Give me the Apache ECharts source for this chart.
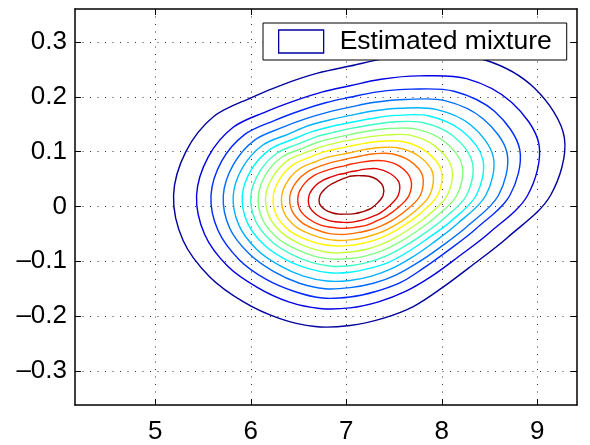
<!DOCTYPE html>
<html><head><meta charset="utf-8">
<script src="https://cdn.jsdelivr.net/npm/echarts@6/dist/echarts.min.js"></script>
<style>html,body{margin:0;padding:0;background:#fff}#chart{width:590px;height:445px}</style>
</head><body><div id="chart"></div>
<script>
// ---- chart values ----
const xTickValues = [5, 6, 7, 8, 9];
const yTickValues = [-0.3, -0.2, -0.1, 0, 0.1, 0.2, 0.3];
const xRange = [4.159, 9.416];
const yRange = [-0.362, 0.360];
const legendLabel = 'Estimated mixture';

// contour lines, outermost (lowest level) to innermost (highest level), [x, y] points
const c1 = [[9.138,0.020],[9.284,0.125],[8.975,0.215],[8.453,0.267],[7.883,0.275],[7.423,0.270],[7.039,0.256],[6.700,0.243],[6.363,0.224],[6.013,0.199],[5.611,0.164],[5.320,0.100],[5.191,0.020],[5.291,-0.062],[5.568,-0.128],[5.924,-0.174],[6.297,-0.204],[6.672,-0.219],[7.039,-0.217],[7.383,-0.204],[7.707,-0.182],[8.006,-0.148],[8.313,-0.108],[8.686,-0.057]];
const c2 = [[8.898,0.020],[9.018,0.113],[8.730,0.190],[8.260,0.233],[7.759,0.238],[7.364,0.232],[7.039,0.220],[6.752,0.209],[6.464,0.193],[6.163,0.173],[5.812,0.144],[5.553,0.090],[5.432,0.020],[5.517,-0.051],[5.759,-0.109],[6.072,-0.148],[6.397,-0.174],[6.721,-0.186],[7.039,-0.185],[7.337,-0.174],[7.620,-0.155],[7.887,-0.128],[8.164,-0.093],[8.499,-0.048]];
const c3 = [[8.712,0.020],[8.817,0.103],[8.555,0.173],[8.129,0.210],[7.682,0.214],[7.329,0.209],[7.039,0.199],[6.783,0.189],[6.524,0.175],[6.252,0.157],[5.934,0.131],[5.696,0.083],[5.583,0.020],[5.657,-0.044],[5.878,-0.097],[6.162,-0.133],[6.458,-0.155],[6.752,-0.167],[7.039,-0.165],[7.309,-0.155],[7.565,-0.139],[7.805,-0.113],[8.054,-0.082],[8.356,-0.041]];
const c4 = [[8.593,0.020],[8.684,0.097],[8.432,0.160],[8.032,0.193],[7.619,0.195],[7.299,0.190],[7.039,0.181],[6.810,0.172],[6.577,0.160],[6.331,0.144],[6.040,0.121],[5.820,0.077],[5.712,0.020],[5.777,-0.039],[5.980,-0.086],[6.241,-0.119],[6.510,-0.140],[6.778,-0.150],[7.039,-0.148],[7.284,-0.140],[7.519,-0.125],[7.744,-0.103],[7.979,-0.075],[8.262,-0.037]];
const c5 = [[8.460,0.020],[8.540,0.090],[8.307,0.148],[7.940,0.177],[7.565,0.179],[7.275,0.174],[7.039,0.166],[6.831,0.158],[6.615,0.148],[6.394,0.132],[6.126,0.112],[5.918,0.072],[5.816,0.020],[5.875,-0.034],[6.060,-0.078],[6.303,-0.108],[6.552,-0.127],[6.799,-0.136],[7.039,-0.135],[7.265,-0.127],[7.481,-0.113],[7.687,-0.093],[7.903,-0.067],[8.160,-0.032]];
const c6 = [[8.360,0.020],[8.431,0.085],[8.211,0.138],[7.868,0.165],[7.522,0.166],[7.254,0.160],[7.039,0.153],[6.849,0.146],[6.651,0.137],[6.448,0.123],[6.202,0.104],[6.009,0.068],[5.911,0.020],[5.965,-0.030],[6.139,-0.070],[6.366,-0.097],[6.597,-0.113],[6.822,-0.121],[7.039,-0.120],[7.243,-0.113],[7.442,-0.102],[7.634,-0.084],[7.838,-0.060],[8.082,-0.029]];
const c7 = [[8.259,0.020],[8.321,0.080],[8.116,0.129],[7.799,0.153],[7.481,0.154],[7.236,0.148],[7.039,0.142],[6.865,0.135],[6.685,0.127],[6.498,0.114],[6.273,0.097],[6.095,0.064],[6.001,0.020],[6.049,-0.026],[6.212,-0.063],[6.422,-0.087],[6.635,-0.102],[6.841,-0.109],[7.039,-0.108],[7.226,-0.102],[7.408,-0.091],[7.586,-0.075],[7.777,-0.054],[8.002,-0.025]];
const c8 = [[8.157,0.020],[8.213,0.075],[8.024,0.119],[7.733,0.141],[7.442,0.142],[7.219,0.137],[7.039,0.131],[6.880,0.125],[6.714,0.118],[6.543,0.106],[6.334,0.091],[6.167,0.061],[6.079,0.020],[6.120,-0.023],[6.275,-0.057],[6.474,-0.078],[6.671,-0.091],[6.860,-0.096],[7.039,-0.095],[7.208,-0.090],[7.374,-0.081],[7.539,-0.067],[7.715,-0.048],[7.923,-0.021]];
const c9 = [[8.057,0.020],[8.105,0.070],[7.930,0.110],[7.667,0.130],[7.404,0.130],[7.202,0.126],[7.039,0.121],[6.895,0.116],[6.744,0.109],[6.588,0.099],[6.397,0.085],[6.242,0.057],[6.156,0.020],[6.194,-0.019],[6.339,-0.050],[6.525,-0.069],[6.707,-0.080],[6.878,-0.085],[7.039,-0.083],[7.191,-0.079],[7.341,-0.071],[7.492,-0.059],[7.655,-0.042],[7.846,-0.018]];
const c10 = [[7.955,0.020],[7.996,0.065],[7.838,0.100],[7.601,0.118],[7.365,0.119],[7.185,0.115],[7.039,0.110],[6.910,0.1055],[6.775,0.100],[6.634,0.091],[6.461,0.078],[6.318,0.054],[6.236,0.020],[6.268,-0.016],[6.404,-0.044],[6.577,-0.060],[6.743,-0.069],[6.896,-0.072],[7.039,-0.071],[7.173,-0.067],[7.307,-0.061],[7.444,-0.051],[7.593,-0.036],[7.767,-0.014]];
const c11 = [[7.872,0.020],[7.906,0.061],[7.757,0.092],[7.538,0.107],[7.327,0.107],[7.166,0.103],[7.039,0.098],[6.926,0.094],[6.808,0.090],[6.683,0.082],[6.531,0.071],[6.401,0.050],[6.324,0.020],[6.350,-0.012],[6.472,-0.037],[6.629,-0.051],[6.777,-0.059],[6.913,-0.062],[7.039,-0.061],[7.158,-0.058],[7.279,-0.052],[7.405,-0.044],[7.543,-0.031],[7.703,-0.011]];
const c12 = [[7.775,0.020],[7.799,0.056],[7.666,0.083],[7.473,0.096],[7.288,0.096],[7.150,0.092],[7.039,0.088],[6.941,0.084],[6.839,0.080],[6.731,0.074],[6.600,0.064],[6.483,0.046],[6.410,0.020],[6.432,-0.008],[6.540,-0.030],[6.680,-0.042],[6.812,-0.049],[6.930,-0.051],[7.039,-0.050],[7.142,-0.047],[7.248,-0.043],[7.361,-0.036],[7.484,-0.025],[7.627,-0.007]];
const c13 = [[7.657,0.020],[7.674,0.050],[7.560,0.073],[7.398,0.083],[7.246,0.083],[7.131,0.080],[7.039,0.077],[6.957,0.073],[6.872,0.070],[6.780,0.065],[6.668,0.057],[6.564,0.042],[6.496,0.020],[6.512,-0.005],[6.608,-0.023],[6.731,-0.034],[6.846,-0.038],[6.947,-0.040],[7.039,-0.039],[7.126,-0.037],[7.216,-0.034],[7.311,-0.027],[7.418,-0.018],[7.537,-0.003]];
const c14 = [[7.543,0.020],[7.551,0.044],[7.450,0.061],[7.316,0.069],[7.197,0.068],[7.108,0.065],[7.039,0.063],[6.978,0.060],[6.914,0.058],[6.843,0.054],[6.758,0.048],[6.671,0.037],[6.610,0.020],[6.614,0.000],[6.689,-0.015],[6.788,-0.024],[6.881,-0.028],[6.963,-0.029],[7.039,-0.029],[7.111,-0.027],[7.186,-0.024],[7.265,-0.019],[7.353,-0.012],[7.450,0.001]];
const c15 = [[7.385,0.020],[7.386,0.036],[7.323,0.049],[7.237,0.055],[7.159,0.056],[7.094,0.056],[7.039,0.055],[6.990,0.052],[6.942,0.049],[6.894,0.045],[6.837,0.040],[6.776,0.032],[6.724,0.020],[6.720,0.005],[6.778,-0.006],[6.857,-0.012],[6.926,-0.014],[6.986,-0.014],[7.039,-0.014],[7.090,-0.013],[7.143,-0.011],[7.200,-0.008],[7.264,-0.003],[7.330,0.007]];

const contours = [c1, c2, c3, c4, c5, c6, c7, c8, c9, c10, c11, c12, c13, c14, c15];
const contourColors = ['#00009E','#0000E3','#0029FF','#006CFF','#00B2FF','#00F6FF','#3BFFC4','#80FF80',
                       '#C4FF3B','#FFF600','#FFB200','#FF6C00','#FF2900','#E30000','#9E0000'];

// ---- chart ----
const FONT = '"Liberation Sans", Arial, Helvetica, sans-serif';
const chart = echarts.init(document.getElementById('chart'), null, {renderer: 'canvas'});

function fmtY(v) {
  if (Math.abs(v) < 1e-9) return '0';
  return (v < 0 ? '\u2013' : '') + Math.abs(v).toFixed(1);
}

const frameLine = {show: true, onZero: false, lineStyle: {color: '#000', width: 1.5}};
const dotted = {show: true, lineStyle: {color: '#333', width: 1, type: [1, 6.5]}};

const option = {
  animation: false,
  backgroundColor: '#fff',
  grid: {left: 75, right: 13, top: 9, bottom: 40, containLabel: false},
  xAxis: [
    {type: 'value', min: xRange[0], max: xRange[1], position: 'bottom',
     axisLine: frameLine,
     axisTick: {show: true, inside: true, length: 6, customValues: xTickValues, lineStyle: {color: '#000', width: 1}},
     axisLabel: {show: true, customValues: xTickValues, margin: 14, color: '#000', fontSize: 26, fontFamily: FONT,
                 formatter: v => String(v)},
     splitLine: dotted},
    {type: 'value', min: xRange[0], max: xRange[1], position: 'top',
     axisLine: frameLine,
     axisTick: {show: true, inside: true, length: 6, customValues: xTickValues, lineStyle: {color: '#000', width: 1}},
     axisLabel: {show: false},
     splitLine: {show: false}}
  ],
  yAxis: [
    {type: 'value', min: yRange[0], max: yRange[1], position: 'left',
     axisLine: frameLine,
     axisTick: {show: true, inside: true, length: 6, customValues: yTickValues, lineStyle: {color: '#000', width: 1}},
     axisLabel: {show: true, customValues: yTickValues, margin: 8, color: '#000', fontSize: 26, fontFamily: FONT,
                 formatter: fmtY},
     splitLine: dotted},
    {type: 'value', min: yRange[0], max: yRange[1], position: 'right',
     axisLine: frameLine,
     axisTick: {show: true, inside: true, length: 6, customValues: yTickValues, lineStyle: {color: '#000', width: 1}},
     axisLabel: {show: false},
     splitLine: {show: false}}
  ],
  legend: {
    show: true, left: 263, top: 23, orient: 'horizontal',
    padding: [5, 15, 5, 15], itemWidth: 45, itemHeight: 23,
    backgroundColor: '#fff', borderColor: '#000', borderWidth: 1, borderRadius: 0,
    selectedMode: false, z: 10,
    data: [{name: legendLabel, icon: 'rect',
            itemStyle: {color: '#fff', borderColor: '#00009E', borderWidth: 1.3}}],
    textStyle: {fontSize: 26.5, fontFamily: FONT, color: '#000', padding: [0, 0, 0, 11]}
  },
  series: [{
    type: 'custom',
    name: legendLabel,
    coordinateSystem: 'cartesian2d',
    xAxisIndex: 0, yAxisIndex: 0,
    silent: true,
    clip: true,
    itemStyle: {color: '#00009E'},
    data: contours.map((c, i) => [i]),
    renderItem: function (params, api) {
      const idx = api.value(0);
      const pts = contours[idx].map(p => api.coord(p));
      return {
        type: 'polygon',
        shape: {points: pts, smooth: 0.33},
        style: {fill: 'none', stroke: contourColors[idx], lineWidth: 1.4},
        silent: true
      };
    }
  }]
};
chart.setOption(option);
</script>
</body></html>
